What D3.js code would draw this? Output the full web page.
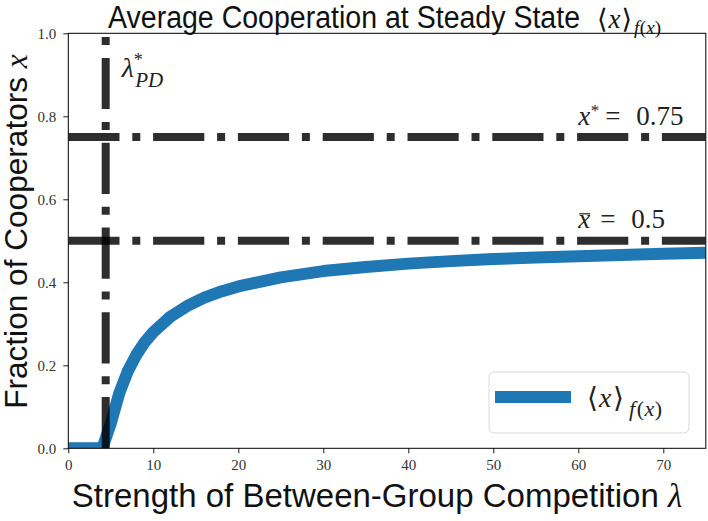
<!DOCTYPE html>
<html>
<head>
<meta charset="utf-8">
<script src="https://cdn.jsdelivr.net/npm/d3@7"></script>
<style>
  body { margin: 0; background: #fff; }
  svg { display: block; }
</style>
</head>
<body>
<svg id="drawing_region"></svg>
<script>
// values
const lambdaVals = [0, 1, 2, 3, 4, 5, 6, 7, 8, 9, 10, 12, 14, 16, 18, 20, 25, 30, 35, 40, 45, 50, 55, 60, 65, 70, 75];
const coopVals = [0, 0, 0, 0, 0, 0.06, 0.133, 0.186, 0.225, 0.256, 0.28, 0.317, 0.343, 0.363, 0.378, 0.39, 0.412, 0.427, 0.437, 0.445, 0.451, 0.456, 0.46, 0.463, 0.466, 0.469, 0.471];
const xTicks = [0, 10, 20, 30, 40, 50, 60, 70];
const yTicks = [0.0, 0.2, 0.4, 0.6, 0.8, 1.0];
const lambdaPD = 4.4;
const refLevels = [0.75, 0.5];

const data = lambdaVals.map((l, i) => ({ lambda: l, x: coopVals[i] }));

class CoopChart {

    constructor(config, data) {
        this.config = config;
        this.data = data;
        this.init();
    }

    init() {
        let self = this;
        const c = self.config;

        self.svg = d3.select(c.parent)
            .attr('width', c.width)
            .attr('height', c.height);

        self.xscale = d3.scaleLinear()
            .domain([0, 75])
            .range([c.margin.left, c.width - c.margin.right]);

        self.yscale = d3.scaleLinear()
            .domain([0, 1])
            .range([c.height - c.margin.bottom, c.margin.top]);

        self.svg.append('clipPath').attr('id', 'plot_clip')
            .append('rect')
            .attr('x', self.xscale(0))
            .attr('y', self.yscale(1))
            .attr('width', self.xscale(75) - self.xscale(0))
            .attr('height', self.yscale(0) - self.yscale(1));

        self.chart = self.svg.append('g');
    }

    render() {
        let self = this;
        const xs = self.xscale, ys = self.yscale;
        const serif = "'Liberation Serif', 'DejaVu Serif', serif";
        const sans = "'Liberation Sans', Arial, sans-serif";
        const dash = '51.2,12.8,8,12.8';

        const plot = self.chart.append('g').attr('clip-path', 'url(#plot_clip)');

        // curve
        const line = d3.line()
            .x(d => xs(d.lambda))
            .y(d => ys(d.x));

        plot.append('path')
            .datum(self.data)
            .attr('d', line)
            .attr('fill', 'none')
            .attr('stroke', '#1f77b4')
            .attr('stroke-width', 12)
            .attr('stroke-linejoin', 'round');

        // reference lines
        plot.selectAll('.href')
            .data(refLevels)
            .enter()
            .append('line')
            .attr('x1', xs(0)).attr('x2', xs(75))
            .attr('y1', d => ys(d)).attr('y2', d => ys(d))
            .attr('stroke', '#000')
            .attr('stroke-opacity', 0.82)
            .attr('stroke-width', 8)
            .attr('stroke-dasharray', dash);

        plot.append('line')
            .attr('x1', xs(lambdaPD)).attr('x2', xs(lambdaPD))
            .attr('y1', ys(0)).attr('y2', ys(1))
            .attr('stroke', '#000')
            .attr('stroke-opacity', 0.82)
            .attr('stroke-width', 8)
            .attr('stroke-dasharray', dash);

        // axes
        const xAxis = d3.axisBottom(xs).tickValues(xTicks).tickFormat(d3.format('d')).tickSize(5).tickPadding(6);
        const yAxis = d3.axisLeft(ys).tickValues(yTicks).tickFormat(d3.format('.1f')).tickSize(5).tickPadding(7);

        self.chart.append('g')
            .attr('transform', `translate(0, ${ys(0)})`)
            .call(xAxis)
            .call(g => g.select('.domain').remove());
        self.chart.append('g')
            .attr('transform', `translate(${xs(0)}, 0)`)
            .call(yAxis)
            .call(g => g.select('.domain').remove());

        self.chart.selectAll('.tick text')
            .attr('font-family', serif)
            .attr('font-size', 15)
            .attr('fill', '#333');
        self.chart.selectAll('.tick line').attr('stroke', '#000').attr('stroke-width', 0.9);

        self.chart.append('rect')
            .attr('x', xs(0)).attr('y', ys(1))
            .attr('width', xs(75) - xs(0))
            .attr('height', ys(0) - ys(1))
            .attr('fill', 'none')
            .attr('stroke', '#000')
            .attr('stroke-width', 1);

        // annotations
        const ann = self.chart.append('g').attr('font-family', serif).attr('fill', '#222');

        const lx = xs(lambdaPD) + 16;
        const lp = ann.append('text')
            .attr('x', lx)
            .attr('y', ys(0.9) + 2)
            .attr('font-size', 28);
        lp.append('tspan').attr('font-style', 'italic').text('λ');
        lp.append('tspan').attr('x', lx + 12).attr('font-size', 18).attr('dy', -11).text('*');
        lp.append('tspan').attr('x', lx + 13.5).attr('font-size', 21).attr('font-style', 'italic').attr('dy', 21).text('PD');

        const ax = xs(60);
        const xs1 = ann.append('text')
            .attr('x', ax)
            .attr('y', ys(0.75) - 12)
            .attr('font-size', 27);
        xs1.append('tspan').attr('font-style', 'italic').text('x');
        xs1.append('tspan').attr('x', ax + 12.5).attr('font-size', 17).attr('dy', -9).text('*');
        xs1.append('tspan').attr('x', ax + 27).attr('dy', 9).text('=');
        xs1.append('tspan').attr('x', ax + 58).text('0.75');

        const xb = ann.append('text')
            .attr('x', ax)
            .attr('y', ys(0.5) - 12.5)
            .attr('font-size', 27);
        xb.append('tspan').attr('font-style', 'italic').text('x');
        xb.append('tspan').attr('x', ax + 22).text('=');
        xb.append('tspan').attr('x', ax + 53).text('0.5');
        ann.append('line')
            .attr('x1', ax + 1).attr('x2', ax + 12)
            .attr('y1', ys(0.5) - 27).attr('y2', ys(0.5) - 27)
            .attr('stroke', '#222').attr('stroke-width', 1.2);

        // legend
        const lg = self.chart.append('g');
        lg.append('rect')
            .attr('x', 489).attr('y', 372)
            .attr('width', 200).attr('height', 61)
            .attr('rx', 5)
            .attr('fill', '#fff').attr('fill-opacity', 0.8)
            .attr('stroke', '#d9d9d9');
        lg.append('line')
            .attr('x1', 495).attr('x2', 571)
            .attr('y1', 397).attr('y2', 397)
            .attr('stroke', '#1f77b4').attr('stroke-width', 12);
        const lt = lg.append('text')
            .attr('x', 587).attr('y', 407)
            .attr('font-family', serif).attr('font-size', 28).attr('fill', '#222');
        lt.append('tspan').text('⟨');
        lt.append('tspan').attr('x', 599).attr('font-style', 'italic').text('x');
        lt.append('tspan').attr('x', 613).text('⟩');
        lt.append('tspan').attr('x', 629).attr('font-size', 22).attr('dy', 9).attr('font-style', 'italic').text('f');
        lt.append('tspan').attr('font-size', 22).attr('dx', 1.5).text('(');
        lt.append('tspan').attr('font-size', 22).attr('font-style', 'italic').attr('dx', 0.5).text('x');
        lt.append('tspan').attr('font-size', 22).attr('dx', 0.5).text(')');

        // title, left part stretched to the reference width
        const title = self.svg.append('text')
            .attr('x', 108).attr('y', 28)
            .attr('font-family', sans).attr('font-size', 31).attr('fill', '#111');
        title.append('tspan')
            .attr('textLength', 472).attr('lengthAdjust', 'spacingAndGlyphs')
            .text('Average Cooperation at Steady State');
        title.append('tspan').attr('x', 597).attr('font-family', serif).attr('font-size', 27).text('⟨');
        title.append('tspan').attr('font-family', serif).attr('font-size', 27).attr('font-style', 'italic').attr('dx', 1).text('x');
        title.append('tspan').attr('font-family', serif).attr('font-size', 27).attr('dx', 1).text('⟩');
        title.append('tspan').attr('font-family', serif).attr('font-style', 'italic').attr('font-size', 19).attr('dy', 6).attr('dx', 2).text('f');
        title.append('tspan').attr('font-family', serif).attr('font-size', 19).attr('dx', 0.5).text('(');
        title.append('tspan').attr('font-family', serif).attr('font-style', 'italic').attr('font-size', 19).text('x');
        title.append('tspan').attr('font-family', serif).attr('font-size', 19).text(')');

        // axis labels
        const cx = (xs(0) + xs(75)) / 2;
        const xl = self.svg.append('text')
            .attr('x', cx - 10).attr('y', 507)
            .attr('text-anchor', 'middle')
            .attr('font-family', sans).attr('font-size', 33).attr('fill', '#111');
        xl.append('tspan').text('Strength of Between-Group Competition ');
        xl.append('tspan').attr('font-family', serif).attr('font-style', 'italic').text('λ');

        const yl = self.svg.append('text')
            .attr('transform', 'translate(27, 231.5) rotate(-90)')
            .attr('text-anchor', 'middle')
            .attr('font-family', sans).attr('font-size', 31.6).attr('fill', '#111');
        yl.append('tspan').text('Fraction of Cooperators ');
        yl.append('tspan').attr('font-family', serif).attr('font-style', 'italic').text('x');
    }
}

const config = {
    parent: '#drawing_region',
    width: 708,
    height: 521,
    margin: { top: 33.3, right: 2.2, bottom: 72.7, left: 68.3 }
};

const chart = new CoopChart(config, data);
chart.render();
</script>
</body>
</html>
